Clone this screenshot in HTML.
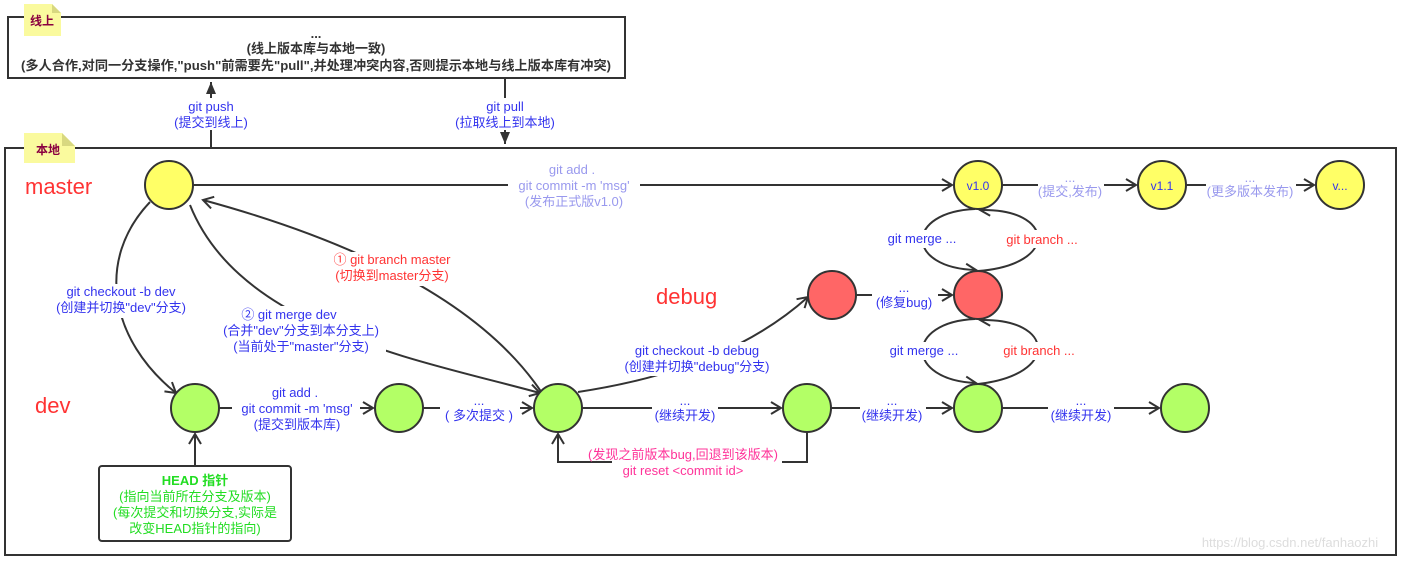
<!DOCTYPE html>
<html><head><meta charset="utf-8"><style>
body{margin:0;background:#fff;}
svg{display:block;font-family:"Liberation Sans","Noto Sans CJK SC",sans-serif;}
</style></head><body>
<svg width="1403" height="561" viewBox="0 0 1403 561" xmlns="http://www.w3.org/2000/svg">
<defs>
<marker id="a" markerWidth="14" markerHeight="14" refX="12" refY="7" orient="auto" markerUnits="userSpaceOnUse">
<path d="M2,1 L12,7 L2,13" fill="none" stroke="#333" stroke-width="2"/></marker>
<marker id="f" markerWidth="14" markerHeight="14" refX="12" refY="7" orient="auto" markerUnits="userSpaceOnUse">
<path d="M0,2 L12,7 L0,12 Z" fill="#333"/></marker>
</defs>
<rect x="8" y="17" width="617" height="61" fill="#fff" stroke="#333" stroke-width="2"/>
<path d="M24,4 L52,4 L61,13 L61,36 L24,36 Z" fill="#fafa9e"/><path d="M52,4 L61,13 L52,13Z" fill="#d8d880"/>
<text x="42" y="25" font-size="12" font-weight="bold" fill="#8a0040" text-anchor="middle">线上</text>
<g font-size="13" font-weight="bold" fill="#333" text-anchor="middle">
<text x="316" y="38">...</text>
<text x="316" y="53">(线上版本库与本地一致)</text>
<text x="316" y="70" textLength="590" lengthAdjust="spacingAndGlyphs">(多人合作,对同一分支操作,"push"前需要先"pull",并处理冲突内容,否则提示本地与线上版本库有冲突)</text>
</g>
<rect x="5" y="148" width="1391" height="407" fill="#fff" stroke="#333" stroke-width="2"/>
<path d="M24,133 L62,133 L75,146 L75,163 L24,163 Z" fill="#fafa9e"/><path d="M62,133 L75,146 L62,146Z" fill="#d8d880"/>
<text x="48" y="154" font-size="12" font-weight="bold" fill="#8a0040" text-anchor="middle">本地</text>
<line x1="211" y1="147" x2="211" y2="82" stroke="#333" stroke-width="2" marker-end="url(#f)"/>
<line x1="505" y1="79" x2="505" y2="144" stroke="#333" stroke-width="2" marker-end="url(#f)"/>
<rect x="170" y="98" width="84" height="32" fill="#fff"/>
<rect x="450" y="98" width="110" height="32" fill="#fff"/>
<g font-size="13" fill="#3333ee" text-anchor="middle">
<text x="211" y="111">git push</text><text x="211" y="127">(提交到线上)</text>
<text x="505" y="111">git pull</text><text x="505" y="127">(拉取线上到本地)</text>
</g>
<g font-size="22" fill="#ff3333"><text x="25" y="194">master</text><text x="656" y="304">debug</text><text x="35" y="413">dev</text></g>
<g fill="none" stroke="#333" stroke-width="2">
<line x1="193" y1="185" x2="952" y2="185" marker-end="url(#a)"/>
<line x1="1002" y1="185" x2="1136" y2="185" marker-end="url(#a)"/>
<line x1="1186" y1="185" x2="1314" y2="185" marker-end="url(#a)"/>
<line x1="856" y1="295" x2="952" y2="295" marker-end="url(#a)"/>
<line x1="219" y1="408" x2="373" y2="408" marker-end="url(#a)"/>
<line x1="423" y1="408" x2="532" y2="408" marker-end="url(#a)"/>
<line x1="582" y1="408" x2="781" y2="408" marker-end="url(#a)"/>
<line x1="831" y1="408" x2="952" y2="408" marker-end="url(#a)"/>
<line x1="1002" y1="408" x2="1159" y2="408" marker-end="url(#a)"/>
<line x1="195" y1="465" x2="195" y2="434" marker-end="url(#a)"/>
<path d="M150,202 C95,260 110,340 176,393" marker-end="url(#a)"/>
<path d="M542,393 C480,300 350,240 203,200" marker-end="url(#a)"/>
<path d="M190,205 C240,330 420,360 540,393" marker-end="url(#a)"/>
<path d="M578,392 C690,375 760,340 808,297" marker-end="url(#a)"/>
<path d="M807,432 L807,462 L558,462 L558,434" marker-end="url(#a)"/>
<path d="M975,209 C905,212 905,268 976,270" marker-end="url(#a)"/>
<path d="M978,271 C1060,265 1055,208 980,210" marker-end="url(#a)"/>
<path d="M975,319 C905,322 905,380 976,383" marker-end="url(#a)"/>
<path d="M978,384 C1060,375 1055,318 980,320" marker-end="url(#a)"/>
</g>
<g fill="#fff">
<rect x="508" y="162" width="132" height="48"/>
<rect x="1038" y="175" width="66" height="26"/>
<rect x="1206" y="175" width="90" height="26"/>
<rect x="872" y="285" width="66" height="26"/>
<rect x="860" y="398" width="66" height="26"/>
<rect x="1048" y="398" width="66" height="26"/>
<rect x="440" y="398" width="80" height="26"/>
<rect x="652" y="398" width="66" height="26"/>
<rect x="232" y="384" width="128" height="50"/>
<rect x="50" y="284" width="142" height="34"/>
<rect x="326" y="252" width="134" height="34"/>
<rect x="218" y="306" width="168" height="50"/>
<rect x="620" y="342" width="158" height="34"/>
<rect x="612" y="446" width="170" height="32"/>
<rect x="880" y="230" width="84" height="18"/><rect x="1000" y="230" width="76" height="18"/>
<rect x="882" y="342" width="84" height="18"/><rect x="998" y="342" width="76" height="18"/>
</g>
<g font-size="13" text-anchor="middle">
<g fill="#9999ee"><text x="572" y="174">git add .</text><text x="574" y="190">git commit -m 'msg'</text><text x="574" y="206">(发布正式版v1.0)</text>
<text x="1070" y="182">...</text><text x="1070" y="196">(提交,发布)</text>
<text x="1250" y="182">...</text><text x="1250" y="196">(更多版本发布)</text></g>
<g fill="#3333ee">
<text x="904" y="292">...</text><text x="904" y="307">(修复bug)</text>
<text x="892" y="405">...</text><text x="892" y="420">(继续开发)</text>
<text x="1081" y="405">...</text><text x="1081" y="420">(继续开发)</text>
<text x="685" y="405">...</text><text x="685" y="420">(继续开发)</text>
<text x="479" y="405">...</text><text x="479" y="420">( 多次提交 )</text>
<text x="295" y="397">git add .</text><text x="297" y="413">git commit -m 'msg'</text><text x="297" y="429">(提交到版本库)</text>
<text x="121" y="296">git checkout -b dev</text><text x="121" y="312">(创建并切换"dev"分支)</text>
<text x="289" y="319">② git merge dev</text><text x="301" y="335">(合并"dev"分支到本分支上)</text><text x="301" y="351">(当前处于"master"分支)</text>
<text x="697" y="355">git checkout -b debug</text><text x="697" y="371">(创建并切换"debug"分支)</text>
<text x="922" y="243">git merge ...</text><text x="924" y="355">git merge ...</text>
</g>
<g fill="#ff3333"><text x="392" y="264">① git branch master</text><text x="392" y="280">(切换到master分支)</text>
<text x="1042" y="244">git branch ...</text><text x="1039" y="355">git branch ...</text></g>
<g fill="#ff3399"><text x="683" y="459">(发现之前版本bug,回退到该版本)</text><text x="683" y="475">git reset &lt;commit id&gt;</text></g>
</g>
<g stroke="#333" stroke-width="2">
<g fill="#ffff66"><circle cx="169" cy="185" r="24"/><circle cx="978" cy="185" r="24"/><circle cx="1162" cy="185" r="24"/><circle cx="1340" cy="185" r="24"/></g>
<g fill="#ff6666"><circle cx="832" cy="295" r="24"/><circle cx="978" cy="295" r="24"/></g>
<g fill="#b3ff66"><circle cx="195" cy="408" r="24"/><circle cx="399" cy="408" r="24"/><circle cx="558" cy="408" r="24"/><circle cx="807" cy="408" r="24"/><circle cx="978" cy="408" r="24"/><circle cx="1185" cy="408" r="24"/></g>
</g>
<g font-size="12" fill="#3333ee" text-anchor="middle"><text x="978" y="190">v1.0</text><text x="1162" y="190">v1.1</text><text x="1340" y="190">v...</text></g>
<rect x="99" y="466" width="192" height="75" rx="3" fill="#fff" stroke="#333" stroke-width="2"/>
<g font-size="13" fill="#22dd22" text-anchor="middle">
<text x="195" y="485" font-weight="bold">HEAD 指针</text>
<text x="195" y="501">(指向当前所在分支及版本)</text>
<text x="195" y="517">(每次提交和切换分支,实际是</text>
<text x="195" y="533">改变HEAD指针的指向)</text>
</g>
<text x="1290" y="547" font-size="13" fill="#ddd" text-anchor="middle">https://blog.csdn.net/fanhaozhi</text>
</svg>
</body></html>
